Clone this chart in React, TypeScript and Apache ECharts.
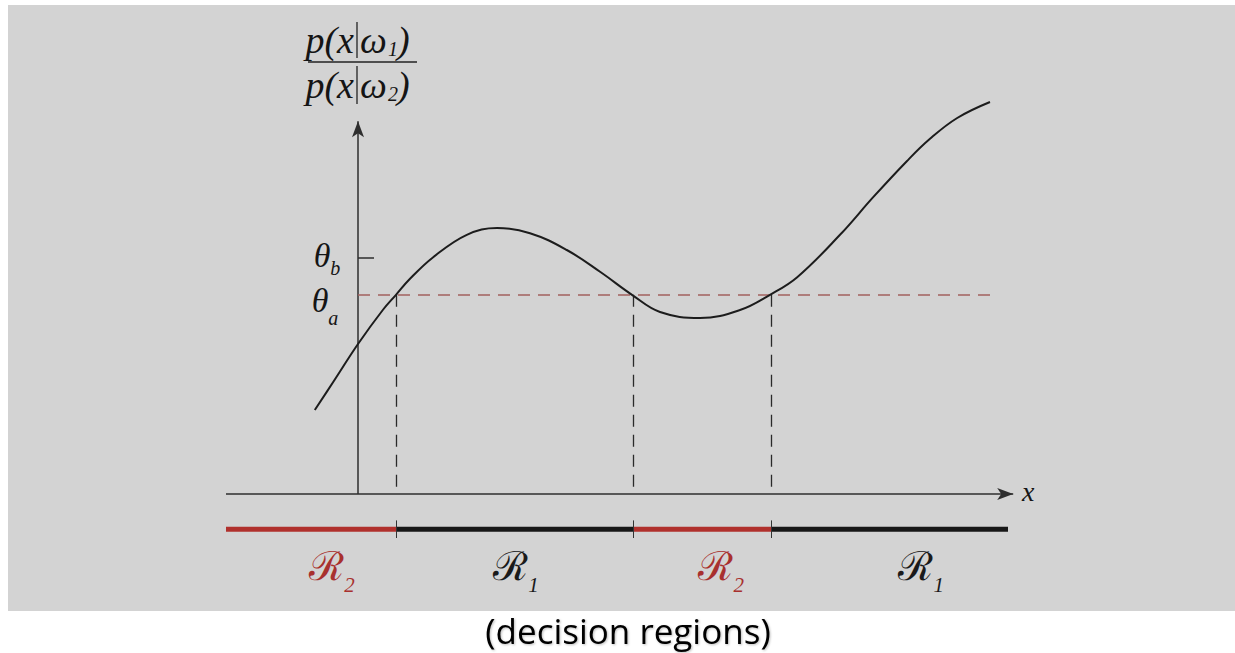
import React, { useEffect, useRef } from "react";
import * as echarts from "echarts";

// ---- data ----
const curveX = [-0.54, -0.31, 0, 0.31, 0.475, 0.65, 0.94, 1.36, 1.74, 2.15, 2.61, 3.03, 3.425, 3.775, 4.275, 4.775, 5.15, 5.49, 6.025, 6.44, 6.86, 7.15, 7.49, 7.9];
const curveY = [1.05, 1.4, 1.875, 2.3, 2.49, 2.69, 2.96, 3.24, 3.325, 3.26, 3.05, 2.775, 2.49, 2.275, 2.2, 2.3, 2.49, 2.71, 3.24, 3.71, 4.16, 4.44, 4.7, 4.9];
const thetaA = 2.49;
const thetaB = 2.95;
const crossings = [0.475, 3.44, 5.17];
const regionBounds = [-1.65, 0.475, 3.44, 5.17, 8.125];
const regionClass = ["2", "1", "2", "1"];
const regionLabelX = [-0.325, 1.975, 4.54, 7.04];

// ---- layout constants ----
const X_MIN = -1.65;
const X_MAX = 8.25;
const Y_MIN = -1.25;
const Y_MAX = 5;
const BAR_Y = -0.44;
const LABEL_Y = -0.9;
const TICK_TOP = -0.33;
const TICK_BOTTOM = -0.55;
const XAXIS_END = 8.19;
const YAXIS_END = 4.66;
const DASH_END = 7.96;

const RED = "#b0302c";
const RED_TEXT = "#a8302e";
const BLACK = "#171717";
const SERIF = "'Liberation Serif', 'DejaVu Serif', serif";

function txt(text: string, x: number, y: number, size: number, opts: any = {}) {
  return {
    type: "text",
    x,
    y,
    z: 20,
    silent: true,
    style: {
      text,
      fontSize: size,
      fontFamily: opts.family || SERIF,
      fontStyle: opts.italic === false ? "normal" : "italic",
      fill: opts.fill || "#151515",
      align: opts.align || "center",
      verticalAlign: "middle",
      ...(opts.extra || {}),
    },
  };
}

// main symbol + subscript in one text element (rich text)
function subTxt(
  main: string,
  sub: string,
  x: number,
  y: number,
  mainSize: number,
  subSize: number,
  lineH: number,
  fill: string,
  mainFamily = SERIF,
  mainItalic = true
) {
  return {
    type: "text",
    x,
    y,
    z: 20,
    silent: true,
    style: {
      text: `{m|${main}}{s|${sub}}`,
      align: "center",
      verticalAlign: "middle",
      fill,
      rich: {
        m: {
          fontSize: mainSize,
          fontFamily: mainFamily,
          fontStyle: mainItalic ? "italic" : "normal",
          lineHeight: lineH,
          fill,
        },
        s: {
          fontSize: subSize,
          fontFamily: SERIF,
          fontStyle: "italic",
          lineHeight: subSize,
          verticalAlign: "bottom",
          fill,
        },
      },
    },
  };
}

export default function App() {
  const ref = useRef<HTMLDivElement>(null);

  useEffect(() => {
    if (!ref.current) return;
    const chart = echarts.init(ref.current, undefined, { renderer: "svg" });

    const solid = (color: string, width: number) => ({ type: "solid", color, width });
    const seg = (a: number[], b: number[], style: any, endSymbol = "none") => [
      { coord: a, symbol: "none" },
      { coord: b, symbol: endSymbol, lineStyle: style },
    ];

    const markData: any[] = [
      seg([X_MIN, 0], [XAXIS_END, 0], solid("#2e2e2e", 1.5), "arrow"),
      seg([0, 0], [0, YAXIS_END], solid("#2e2e2e", 1.5), "arrow"),
      seg([0, thetaB], [0.2, thetaB], solid("#2e2e2e", 1.5)),
      seg([0, thetaA], [DASH_END, thetaA], { type: [12, 8], color: "#a3625f", width: 1.6 }),
      ...crossings.map((c) => seg([c, thetaA], [c, 0], { type: [12, 8], color: "#2a2a2a", width: 1.3 })),
      ...crossings.map((c) => seg([c, TICK_TOP], [c, TICK_BOTTOM], solid("#333", 1))),
    ];

    const regionSeries = regionClass.map((cls, i) => ({
      type: "line",
      data: [
        [regionBounds[i], BAR_Y],
        [regionBounds[i + 1], BAR_Y],
      ],
      symbol: "none",
      silent: true,
      lineStyle: { color: cls === "2" ? RED : BLACK, width: 5, cap: "butt" },
      z: 3,
    }));

    const option: any = {
      animation: false,
      backgroundColor: "#ffffff",
      grid: { left: 226, top: 94, width: 792, height: 500 },
      xAxis: { type: "value", min: X_MIN, max: X_MAX, show: false },
      yAxis: { type: "value", min: Y_MIN, max: Y_MAX, show: false },
      series: [
        ...regionSeries,
        {
          type: "line",
          data: curveX.map((x, i) => [x, curveY[i]]),
          smooth: 0.4,
          symbol: "none",
          silent: true,
          lineStyle: { color: "#1c1c1c", width: 2 },
          z: 5,
          markLine: {
            silent: true,
            symbol: ["none", "none"],
            symbolSize: [9, 16],
            label: { show: false },
            emphasis: { disabled: true },
            data: markData,
          },
        },
      ],
    };
    chart.setOption(option);

    const px = (x: number, y: number) => chart.convertToPixel({ gridIndex: 0 }, [x, y]) as number[];

    const graphics: any[] = [
      {
        type: "rect",
        z: -100,
        silent: true,
        shape: { x: 8, y: 5, width: 1227, height: 606 },
        style: { fill: "#d3d3d3" },
      },
      // fraction label p(x|w1)/p(x|w2)
      txt("p(x", 354, 40, 38, { align: "right" }),
      txt("ω", 360, 40, 38, { align: "left" }),
      txt("1", 388, 49, 20, { align: "left" }),
      txt(")", 397, 40, 38, { align: "left" }),
      txt("p(x", 354, 85, 38, { align: "right" }),
      txt("ω", 360, 85, 38, { align: "left" }),
      txt("2", 388, 94, 20, { align: "left" }),
      txt(")", 397, 85, 38, { align: "left" }),
      { type: "line", z: 20, silent: true, shape: { x1: 357, y1: 22, x2: 357, y2: 58 }, style: { stroke: "#222", lineWidth: 1.3 } },
      { type: "line", z: 20, silent: true, shape: { x1: 357, y1: 66, x2: 357, y2: 104 }, style: { stroke: "#222", lineWidth: 1.3 } },
      { type: "line", z: 20, silent: true, shape: { x1: 308, y1: 62, x2: 417, y2: 62 }, style: { stroke: "#222", lineWidth: 1.5 } },
      // x label
      txt("x", 1022, 491, 28, { align: "left" }),
      // caption
      txt("(decision regions)", 628, 630, 35, {
        italic: false,
        family: "'Open Sans', 'Noto Sans', sans-serif",
        fill: "#000",
        extra: { textShadowColor: "rgba(0,0,0,0.25)", textShadowOffsetX: 1, textShadowOffsetY: 1, textShadowBlur: 2 },
      }),
    ];

    // theta labels (placed from data values)
    const pB = px(0, thetaB);
    const pA = px(0, thetaA);
    graphics.push(subTxt("θ", "b", pB[0] - 31, pB[1] - 3, 34, 20, 46, "#151515"));
    graphics.push(subTxt("θ", "a", pA[0] - 33, pA[1] + 6, 34, 20, 54, "#151515"));

    // region labels
    regionLabelX.forEach((lx, i) => {
      const p = px(lx, LABEL_Y);
      const color = regionClass[i] === "2" ? RED_TEXT : "#1a1a1a";
      graphics.push(subTxt("ℛ", regionClass[i], p[0], p[1], 40, 21, 59, color, "'DejaVu Serif', serif", false));
    });

    chart.setOption({ graphic: graphics });

    return () => chart.dispose();
  }, []);

  return (
    <div
      ref={ref}
      style={{ position: "fixed", left: 0, top: 0, width: 1235, height: 653, background: "#fff" }}
    />
  );
}
